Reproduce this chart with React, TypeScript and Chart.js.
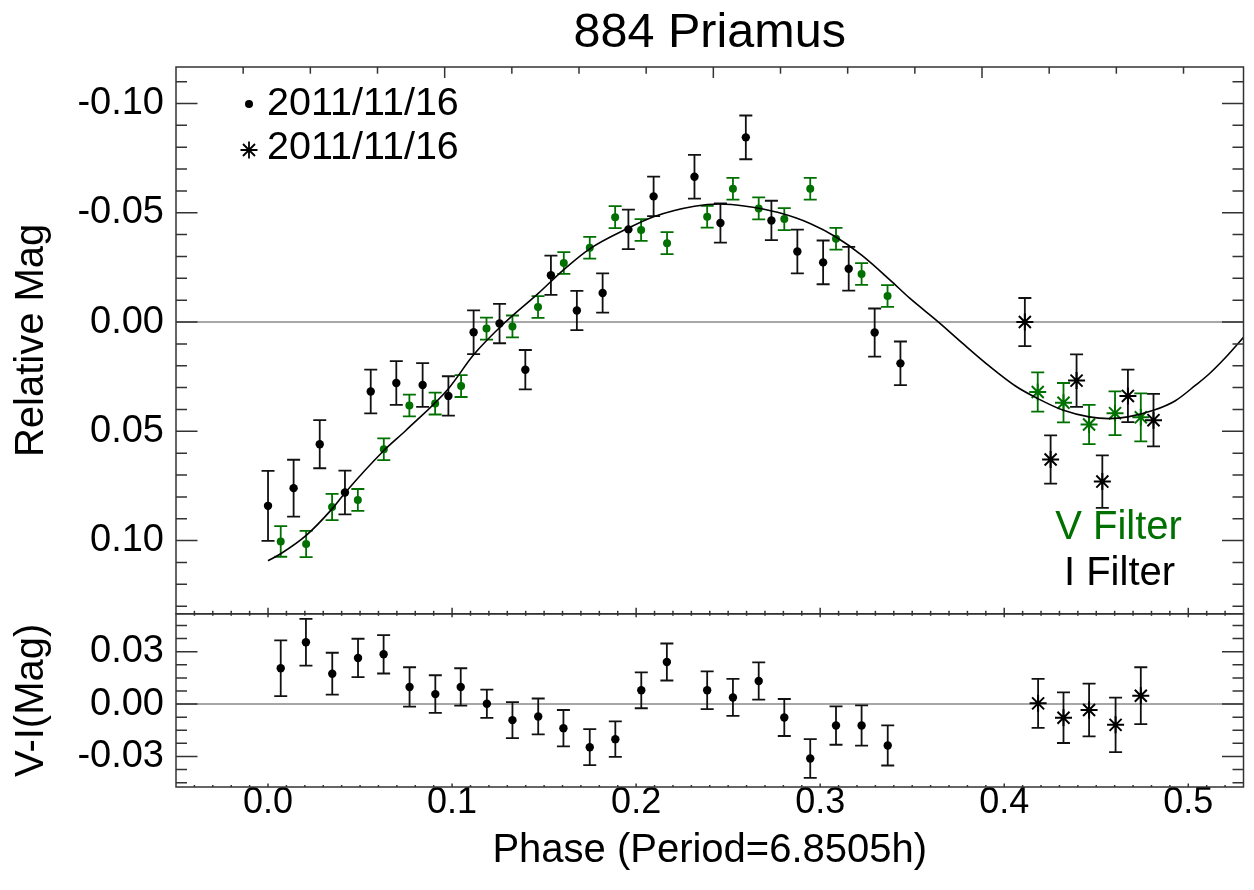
import React, { useEffect, useRef } from 'react';
import { Chart, registerables } from 'chart.js';

Chart.register(...registerables);

const FONT = "'Liberation Sans', Arial, Helvetica, sans-serif";
const GREEN = '#007000';
const FRAME = '#333333';

// ---------- text ----------
const TITLE = '884 Priamus';
const X_TITLE = 'Phase (Period=6.8505h)';
const Y_TITLE = 'Relative Mag';
const Y2_TITLE = 'V-I(Mag)';
const LEGEND_LABELS = ['2011/11/16', '2011/11/16'];
const FILTER_LABELS = ['V Filter', 'I Filter'];

// ---------- axes ----------
const PERIOD_H = 6.8505;
const X_MIN = -0.05;
const X_MAX = 0.53;
const X_TICKS = [0.0, 0.1, 0.2, 0.3, 0.4, 0.5];
const MAG_MIN = -0.1167;
const MAG_MAX = 0.1335;
const MAG_TICKS = [-0.1, -0.05, 0.0, 0.05, 0.1];
const VI_MIN = -0.0475;
const VI_MAX = 0.0517;
const VI_TICKS = [-0.03, 0.0, 0.03];

// ---------- top panel: I filter, first set (dots) ----------
const I_PHASE = [0.0, 0.0139, 0.0281, 0.0418, 0.0558, 0.0697, 0.084, 0.098, 0.1117, 0.1258, 0.1398, 0.1537, 0.1678, 0.1818, 0.1958, 0.2095, 0.2317, 0.2458, 0.2596, 0.2735, 0.2876, 0.3016, 0.3155, 0.3296, 0.3436];
const I_MAG = [0.0841, 0.076, 0.0559, 0.078, 0.0318, 0.0279, 0.0288, 0.0338, 0.0047, 0.0007, 0.0218, -0.0214, -0.0053, -0.0133, -0.0424, -0.0575, -0.0665, -0.0453, -0.0845, -0.0465, -0.0323, -0.0273, -0.0244, 0.0048, 0.0189];
const I_ERR = [0.016, 0.013, 0.011, 0.01, 0.01, 0.01, 0.01, 0.009, 0.01, 0.009, 0.009, 0.009, 0.009, 0.009, 0.009, 0.009, 0.01, 0.009, 0.01, 0.009, 0.01, 0.01, 0.01, 0.011, 0.01];

// ---------- top panel: V filter, first set (dots) ----------
const V_PHASE = [0.0069, 0.0207, 0.0348, 0.0488, 0.0629, 0.0768, 0.0908, 0.1049, 0.1187, 0.1328, 0.1467, 0.1607, 0.1748, 0.1886, 0.2027, 0.2168, 0.2386, 0.2526, 0.2666, 0.2805, 0.2946, 0.3086, 0.3225, 0.3366];
const V_MAG = [0.1004, 0.1016, 0.0846, 0.0814, 0.0582, 0.0382, 0.0373, 0.0293, 0.003, 0.002, -0.0069, -0.027, -0.034, -0.048, -0.0421, -0.0361, -0.0482, -0.061, -0.052, -0.0471, -0.061, -0.0381, -0.022, -0.0119];
const V_ERR = [0.007, 0.006, 0.006, 0.005, 0.005, 0.005, 0.005, 0.005, 0.005, 0.005, 0.005, 0.005, 0.005, 0.005, 0.005, 0.005, 0.005, 0.005, 0.005, 0.005, 0.005, 0.005, 0.005, 0.005];

// ---------- top panel: I filter, second set (asterisks) ----------
const I2_PHASE = [0.4112, 0.4252, 0.4393, 0.4533, 0.4672, 0.4811];
const I2_MAG = [0.0, 0.0629, 0.0268, 0.073, 0.0338, 0.0449];
const I2_ERR = [0.011, 0.011, 0.012, 0.012, 0.012, 0.012];

// ---------- top panel: V filter, second set (asterisks) ----------
const V2_PHASE = [0.4182, 0.4322, 0.4461, 0.4602, 0.4742];
const V2_MAG = [0.032, 0.0369, 0.0469, 0.0417, 0.0436];
const V2_ERR = [0.009, 0.009, 0.009, 0.01, 0.011];

// ---------- top panel: Fourier fit curve ----------
const FIT_PHASE = [0.0, 0.0069, 0.0209, 0.0348, 0.042, 0.0627, 0.075, 0.098, 0.1117, 0.129, 0.1467, 0.1607, 0.1748, 0.1958, 0.2095, 0.2317, 0.2455, 0.2596, 0.2768, 0.2948, 0.3086, 0.3227, 0.338, 0.3488, 0.3643, 0.3776, 0.3921, 0.4065, 0.4182, 0.4322, 0.4461, 0.4569, 0.4672, 0.4811, 0.493, 0.5038, 0.511, 0.5205, 0.5305];
const FIT_MAG = [0.1092, 0.106, 0.0975, 0.0855, 0.078, 0.059, 0.0495, 0.0305, 0.015, 0.0, -0.013, -0.024, -0.0335, -0.043, -0.0482, -0.053, -0.054, -0.053, -0.0502, -0.045, -0.0389, -0.0305, -0.0192, -0.0108, 0.0, 0.0099, 0.0203, 0.0295, 0.035, 0.0404, 0.0434, 0.0442, 0.0434, 0.0404, 0.036, 0.029, 0.024, 0.016, 0.0065];

// ---------- bottom panel: V-I, first set (dots) ----------
const VI_PHASE = [0.0069, 0.0206, 0.0349, 0.0489, 0.0628, 0.0769, 0.0909, 0.1047, 0.1189, 0.1328, 0.1468, 0.1605, 0.1748, 0.1887, 0.2028, 0.2167, 0.2386, 0.2526, 0.2666, 0.2805, 0.2946, 0.3086, 0.3225, 0.3367];
const VI_VAL = [0.0205, 0.0354, 0.0174, 0.0264, 0.0285, 0.0098, 0.0057, 0.0098, 0.0002, -0.0092, -0.0071, -0.0138, -0.0247, -0.0201, 0.0079, 0.0241, 0.0079, 0.0038, 0.0132, -0.0077, -0.0312, -0.0123, -0.0123, -0.0237];
const VI_ERR = [0.016, 0.0134, 0.012, 0.011, 0.011, 0.0113, 0.0108, 0.0107, 0.0081, 0.0103, 0.0103, 0.0104, 0.0103, 0.0102, 0.0103, 0.0106, 0.0108, 0.0106, 0.0107, 0.0106, 0.0111, 0.011, 0.0115, 0.0115];

// ---------- bottom panel: V-I, second set (asterisks) ----------
const VI2_PHASE = [0.4184, 0.4322, 0.4461, 0.4605, 0.4742];
const VI2_VAL = [0.0004, -0.0078, -0.0034, -0.0119, 0.0048];
const VI2_ERR = [0.014, 0.0145, 0.0151, 0.0156, 0.0163];

const pts = (xs: number[], ys: number[]) => xs.map((x, i) => ({ x, y: ys[i] }));

const CAP = 6.5;

function drawAsterisk(ctx: CanvasRenderingContext2D, x: number, y: number, r: number) {
  const d = r * Math.SQRT1_2;
  ctx.beginPath();
  ctx.moveTo(x - r, y); ctx.lineTo(x + r, y);
  ctx.moveTo(x, y - r); ctx.lineTo(x, y + r);
  ctx.moveTo(x - d, y - d); ctx.lineTo(x + d, y + d);
  ctx.moveTo(x - d, y + d); ctx.lineTo(x + d, y - d);
  ctx.stroke();
}

const idlPlugin = {
  id: 'idlFrame',
  beforeDatasetsDraw(chart: any) {
    const { ctx, chartArea: ca, scales } = chart;
    ctx.save();
    // zero lines
    ctx.strokeStyle = '#8a8a8a';
    ctx.lineWidth = 1.5;
    for (const s of [scales.y, scales.y2]) {
      const p = s.getPixelForValue(0);
      ctx.beginPath();
      ctx.moveTo(ca.left, p);
      ctx.lineTo(ca.right, p);
      ctx.stroke();
    }
    // error bars
    chart.data.datasets.forEach((ds: any, i: number) => {
      if (!ds.errs) return;
      const meta = chart.getDatasetMeta(i);
      const ys = scales[ds.yAxisID];
      ctx.strokeStyle = ds.barColor;
      ctx.lineWidth = 1.8;
      ds.data.forEach((pt: any, j: number) => {
        const px = meta.data[j].x;
        const a = ys.getPixelForValue(pt.y - ds.errs[j]);
        const b = ys.getPixelForValue(pt.y + ds.errs[j]);
        ctx.beginPath();
        ctx.moveTo(px, a); ctx.lineTo(px, b);
        ctx.moveTo(px - CAP, a); ctx.lineTo(px + CAP, a);
        ctx.moveTo(px - CAP, b); ctx.lineTo(px + CAP, b);
        ctx.stroke();
      });
    });
    ctx.restore();
  },
  afterDatasetsDraw(chart: any) {
    const { ctx, chartArea: ca, scales } = chart;
    const x = scales.x, y = scales.y, y2 = scales.y2;
    const L = ca.left, R = ca.right;
    ctx.save();
    ctx.strokeStyle = FRAME;
    ctx.lineWidth = 1.5;
    // frames
    ctx.strokeRect(L, y.top, R - L, y.bottom - y.top);
    ctx.strokeRect(L, y2.top, R - L, y2.bottom - y2.top);

    const hTick = (yv: number, len: number) => {
      ctx.beginPath();
      ctx.moveTo(L, yv); ctx.lineTo(L + len, yv);
      ctx.moveTo(R, yv); ctx.lineTo(R - len, yv);
      ctx.stroke();
    };
    const vTick = (xv: number, y0: number, len: number) => {
      ctx.beginPath();
      ctx.moveTo(xv, y0); ctx.lineTo(xv, y0 + len);
      ctx.stroke();
    };
    const near = (a: number, b: number) => Math.abs(a - b) < 1e-9;

    // top panel y ticks
    for (let k = Math.ceil(MAG_MIN / 0.01); k <= Math.floor(MAG_MAX / 0.01); k++) {
      const v = k * 0.01;
      const major = MAG_TICKS.some((t) => near(t, v));
      hTick(y.getPixelForValue(v), major ? 21.5 : 11);
    }
    // bottom panel y ticks
    for (let k = Math.ceil(VI_MIN / 0.0075); k <= Math.floor(VI_MAX / 0.0075); k++) {
      const v = k * 0.0075;
      const major = VI_TICKS.some((t) => near(t, v));
      hTick(y2.getPixelForValue(v), major ? 21.5 : 11);
    }
    // x ticks (phase) on panel edges
    for (let k = Math.ceil(X_MIN / 0.01) + 1; k < Math.floor(X_MAX / 0.01); k++) {
      const v = k * 0.01;
      const major = k % 10 === 0;
      const px = x.getPixelForValue(v);
      vTick(px, y.bottom, major ? -6 : -3);
      vTick(px, y2.top, major ? 3.5 : 2);
      vTick(px, y2.bottom, major ? -3.5 : -2);
    }
    // top axis: hours since start (15 min minor, 1 h major)
    const hMax = (X_MAX - X_MIN) * PERIOD_H;
    for (let q = 1; q * 0.25 < hMax; q++) {
      const h = q * 0.25;
      const px = x.getPixelForValue(X_MIN + h / PERIOD_H);
      vTick(px, y.top, q % 4 === 0 ? 11 : 6.7);
    }

    // legend
    ctx.fillStyle = '#000';
    ctx.strokeStyle = '#000';
    ctx.beginPath();
    ctx.arc(L + 73, y.top + 37, 4, 0, Math.PI * 2);
    ctx.fill();
    ctx.lineWidth = 1.8;
    drawAsterisk(ctx, L + 73, y.top + 83, 8.5);
    ctx.font = `39.5px ${FONT}`;
    ctx.textAlign = 'left';
    ctx.textBaseline = 'middle';
    ctx.fillText(LEGEND_LABELS[0], L + 91, y.top + 37);
    ctx.fillText(LEGEND_LABELS[1], L + 91, y.top + 81);

    // filter labels
    ctx.font = `40px ${FONT}`;
    ctx.textAlign = 'center';
    ctx.fillStyle = GREEN;
    ctx.fillText(FILTER_LABELS[0], R - 125, y.top + 461);
    ctx.fillStyle = '#000';
    ctx.fillText(FILTER_LABELS[1], R - 124, y.top + 507);

    // title
    ctx.font = `48.5px ${FONT}`;
    ctx.textAlign = 'center';
    ctx.textBaseline = 'middle';
    ctx.fillText(TITLE, (L + R) / 2, 34);
    ctx.restore();
  },
};

export default function App() {
  const ref = useRef<HTMLCanvasElement | null>(null);

  useEffect(() => {
    if (!ref.current) return;
    Chart.defaults.font.family = FONT;
    const xTickFont = { size: 36, family: FONT, lineHeight: 1 };
    const yTickFont = { size: 38, family: FONT, lineHeight: 1 };
    const titleFont = { size: 40, family: FONT };

    const chart = new Chart(ref.current, {
      type: 'scatter',
      data: {
        datasets: [
          {
            type: 'line',
            data: pts(FIT_PHASE, FIT_MAG),
            yAxisID: 'y',
            borderColor: '#000',
            borderWidth: 1.6,
            pointRadius: 0,
            cubicInterpolationMode: 'monotone',
            fill: false,
          } as any,
          {
            data: pts(I_PHASE, I_MAG),
            yAxisID: 'y',
            pointStyle: 'circle',
            pointRadius: 4.2,
            pointBorderWidth: 0,
            pointBackgroundColor: '#000',
            errs: I_ERR,
            barColor: '#111',
          } as any,
          {
            data: pts(V_PHASE, V_MAG),
            yAxisID: 'y',
            pointStyle: 'circle',
            pointRadius: 4,
            pointBorderWidth: 0,
            pointBackgroundColor: GREEN,
            errs: V_ERR,
            barColor: GREEN,
          } as any,
          {
            data: pts(I2_PHASE, I2_MAG),
            yAxisID: 'y',
            pointStyle: 'star',
            pointRadius: 8.5,
            pointBorderWidth: 2,
            pointBorderColor: '#000',
            errs: I2_ERR,
            barColor: '#111',
          } as any,
          {
            data: pts(V2_PHASE, V2_MAG),
            yAxisID: 'y',
            pointStyle: 'star',
            pointRadius: 8.5,
            pointBorderWidth: 2,
            pointBorderColor: GREEN,
            errs: V2_ERR,
            barColor: GREEN,
          } as any,
          {
            data: pts(VI_PHASE, VI_VAL),
            yAxisID: 'y2',
            pointStyle: 'circle',
            pointRadius: 4.2,
            pointBorderWidth: 0,
            pointBackgroundColor: '#000',
            errs: VI_ERR,
            barColor: '#111',
          } as any,
          {
            data: pts(VI2_PHASE, VI2_VAL),
            yAxisID: 'y2',
            pointStyle: 'star',
            pointRadius: 8.5,
            pointBorderWidth: 2,
            pointBorderColor: '#000',
            errs: VI2_ERR,
            barColor: '#111',
          } as any,
        ],
      },
      options: {
        animation: false,
        responsive: false,
        devicePixelRatio: 1,
        layout: { padding: { top: 67, right: 5, left: 0, bottom: 0 } },
        plugins: { legend: { display: false }, tooltip: { enabled: false }, title: { display: false } },
        scales: {
          x: {
            type: 'linear',
            position: 'bottom',
            min: X_MIN,
            max: X_MAX,
            grid: { display: false, drawTicks: false },
            border: { display: false },
            afterBuildTicks: (s: any) => { s.ticks = X_TICKS.map((v) => ({ value: v })); },
            afterFit: (s: any) => { s.height = 103; },
            ticks: {
              color: '#000',
              font: xTickFont,
              padding: -2,
              maxRotation: 0,
              autoSkip: false,
              callback: (v: any) => Number(v).toFixed(1),
            },
            title: { display: true, text: X_TITLE, color: '#000', font: titleFont, padding: { top: 0, bottom: 15 } },
          },
          y: {
            type: 'linear',
            position: 'left',
            stack: 'panels',
            stackWeight: 546.8,
            weight: 2,
            reverse: true,
            min: MAG_MIN,
            max: MAG_MAX,
            grid: { display: false, drawTicks: false },
            border: { display: false },
            afterBuildTicks: (s: any) => { s.ticks = MAG_TICKS.map((v) => ({ value: v })); },
            afterFit: (s: any) => { s.width = 176; },
            ticks: {
              color: '#000',
              font: yTickFont,
              padding: 12,
              callback: (v: any) => Number(v).toFixed(2),
            },
            title: { display: true, text: Y_TITLE, color: '#000', font: titleFont, padding: { top: 8, bottom: 0 } },
          },
          y2: {
            type: 'linear',
            position: 'left',
            stack: 'panels',
            stackWeight: 173.2,
            weight: 1,
            min: VI_MIN,
            max: VI_MAX,
            grid: { display: false, drawTicks: false },
            border: { display: false },
            afterBuildTicks: (s: any) => { s.ticks = VI_TICKS.map((v) => ({ value: v })); },
            afterFit: (s: any) => { s.width = 176; },
            ticks: {
              color: '#000',
              font: yTickFont,
              padding: 12,
              callback: (v: any) => Number(v).toFixed(2),
            },
            title: { display: true, text: Y2_TITLE, color: '#000', font: titleFont, padding: { top: 8, bottom: 0 } },
          },
        },
      } as any,
      plugins: [idlPlugin],
    });
    return () => chart.destroy();
  }, []);

  return (
    <div style={{ position: 'absolute', left: 0, top: 0, width: 1254, height: 890, background: '#fff' }}>
      <canvas ref={ref} width={1254} height={890} style={{ display: 'block' }} />
    </div>
  );
}
